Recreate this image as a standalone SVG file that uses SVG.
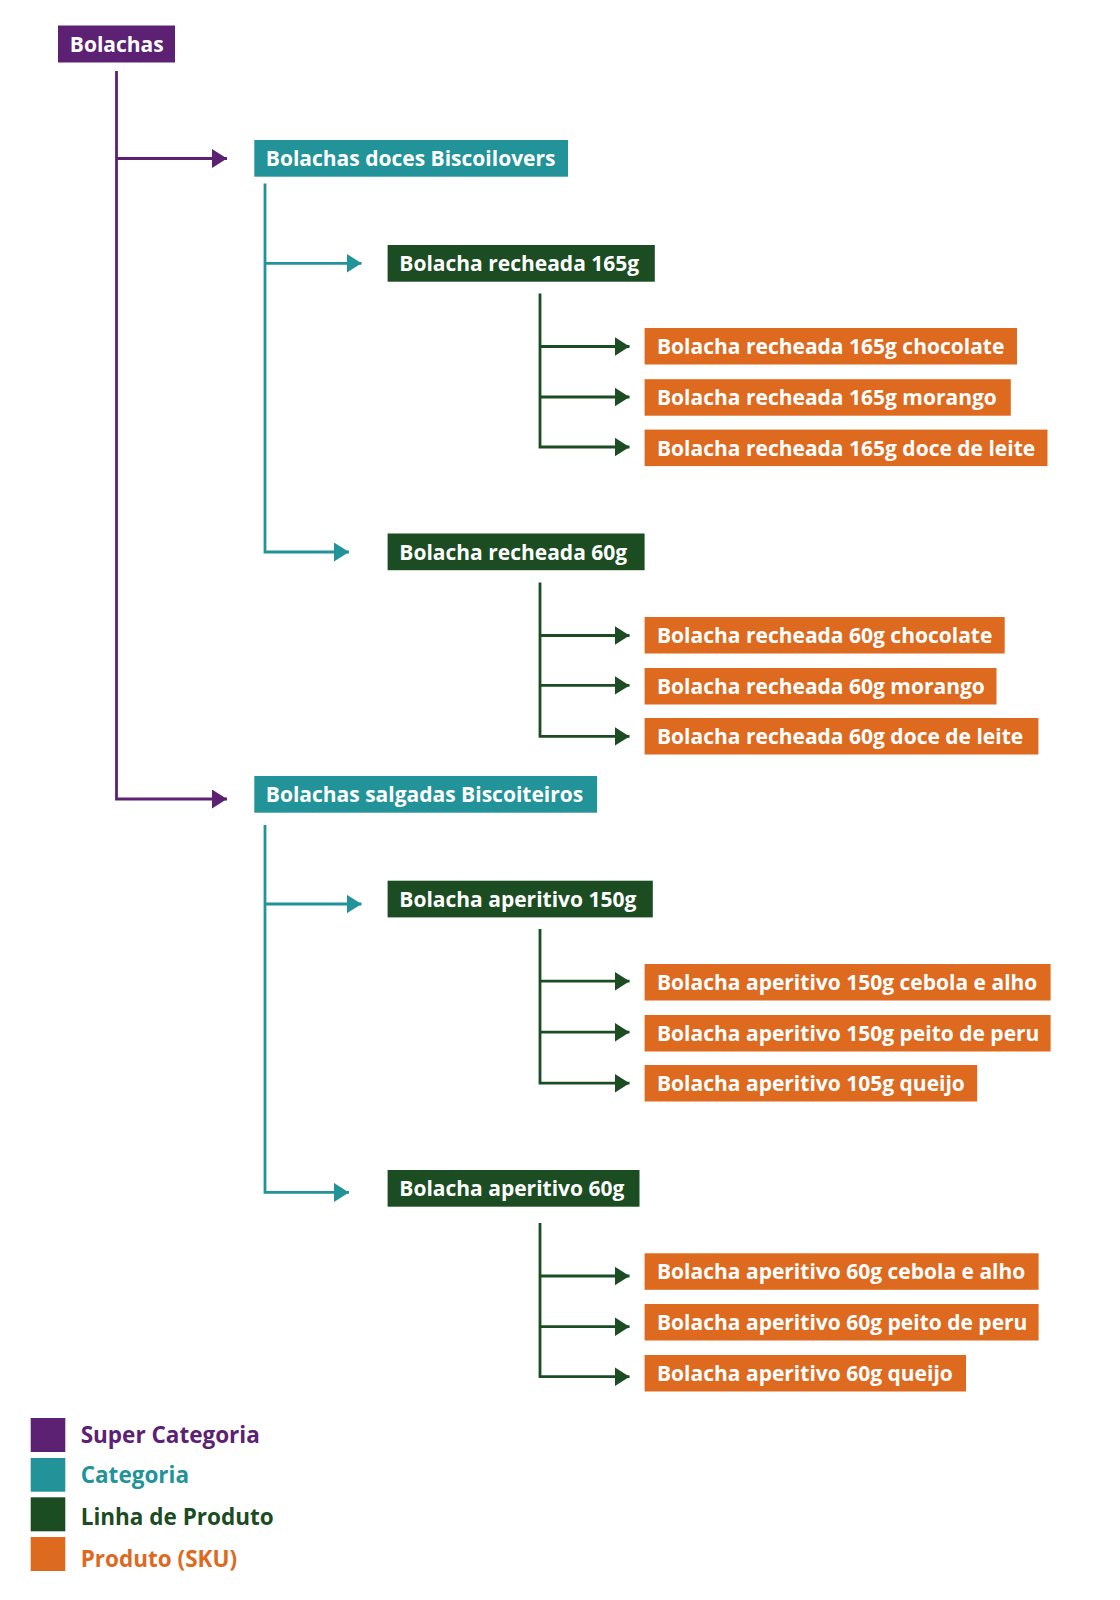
<svg xmlns="http://www.w3.org/2000/svg" width="1120" height="1600" viewBox="0 0 1120 1600">
<style>
text{font-family:"Open Sans","Noto Sans","Liberation Sans",sans-serif;font-weight:700;font-size:21px}
.leg{font-size:22.5px}
.lbl{fill:#ffffff}
.sup{fill:#5c2172}
.cat{fill:#229399}
.lin{fill:#1b4c22}
.sku{fill:#dd6a1f}
.c{fill:none;stroke-width:2.8;stroke-linejoin:miter}
.cp{stroke:#5c2172}
.ct{stroke:#229399}
.cg{stroke:#1b4c22}
</style>
<defs>
<marker id="ap" markerUnits="userSpaceOnUse" markerWidth="16" markerHeight="20" refX="15" refY="9.5" orient="auto"><path d="M0 0L15 9.5L0 19Z" fill="#5c2172"/></marker>
<marker id="at" markerUnits="userSpaceOnUse" markerWidth="16" markerHeight="20" refX="15" refY="9.5" orient="auto"><path d="M0 0L15 9.5L0 19Z" fill="#229399"/></marker>
<marker id="ag" markerUnits="userSpaceOnUse" markerWidth="16" markerHeight="20" refX="15" refY="9.5" orient="auto"><path d="M0 0L15 9.5L0 19Z" fill="#1b4c22"/></marker>
</defs>
<rect width="1120" height="1600" fill="#ffffff"/>
<g id="connectors">
<path class="c cp" d="M116.5 71V799H227" marker-end="url(#ap)"/>
<path class="c cp" d="M116.5 158.5H227" marker-end="url(#ap)"/>
<path class="c ct" d="M265 183.5V552H349" marker-end="url(#at)"/>
<path class="c ct" d="M265 263.3H361.5" marker-end="url(#at)"/>
<path class="c ct" d="M265 825V1192.4H349" marker-end="url(#at)"/>
<path class="c ct" d="M265 904H361.5" marker-end="url(#at)"/>
<path class="c cg" d="M540 293.5V447H629.5" marker-end="url(#ag)"/>
<path class="c cg" d="M540 346.5H629.5" marker-end="url(#ag)"/>
<path class="c cg" d="M540 397H629.5" marker-end="url(#ag)"/>
<path class="c cg" d="M540 582.4V736.4H629.5" marker-end="url(#ag)"/>
<path class="c cg" d="M540 635.5H629.5" marker-end="url(#ag)"/>
<path class="c cg" d="M540 685.4H629.5" marker-end="url(#ag)"/>
<path class="c cg" d="M540 929V1083.2H629.5" marker-end="url(#ag)"/>
<path class="c cg" d="M540 981.2H629.5" marker-end="url(#ag)"/>
<path class="c cg" d="M540 1032.2H629.5" marker-end="url(#ag)"/>
<path class="c cg" d="M540 1223V1376.7H629.5" marker-end="url(#ag)"/>
<path class="c cg" d="M540 1276H629.5" marker-end="url(#ag)"/>
<path class="c cg" d="M540 1326.7H629.5" marker-end="url(#ag)"/>
</g>
<g id="n-bolachas"><rect class="sup" x="58" y="25.5" width="117" height="37"/><text class="lbl" x="69.8" y="51.7">Bolachas</text></g>
<g id="n-doces"><rect class="cat" x="254.3" y="140" width="313.7" height="36.7"/><text class="lbl" x="265.8" y="166">Bolachas doces Biscoilovers</text></g>
<g id="n-rech165"><rect class="lin" x="387.6" y="245" width="267.2" height="36.7"/><text class="lbl" x="399.3" y="271">Bolacha recheada 165g</text></g>
<g id="n-rech165-choc"><rect class="sku" x="644.6" y="328" width="372.4" height="36.5"/><text class="lbl" x="657" y="354">Bolacha recheada 165g chocolate</text></g>
<g id="n-rech165-mor"><rect class="sku" x="644.6" y="379.2" width="366.2" height="36.5"/><text class="lbl" x="657" y="405.2">Bolacha recheada 165g morango</text></g>
<g id="n-rech165-dl"><rect class="sku" x="644.6" y="429.6" width="402.9" height="36.5"/><text class="lbl" x="657" y="455.6">Bolacha recheada 165g doce de leite</text></g>
<g id="n-rech60"><rect class="lin" x="387.6" y="533.5" width="257" height="36.7"/><text class="lbl" x="399.3" y="559.5">Bolacha recheada 60g</text></g>
<g id="n-rech60-choc"><rect class="sku" x="644.6" y="617" width="360.1" height="36.5"/><text class="lbl" x="657" y="643">Bolacha recheada 60g chocolate</text></g>
<g id="n-rech60-mor"><rect class="sku" x="644.6" y="668" width="351.9" height="36.5"/><text class="lbl" x="657" y="694">Bolacha recheada 60g morango</text></g>
<g id="n-rech60-dl"><rect class="sku" x="644.6" y="718" width="393.8" height="36.5"/><text class="lbl" x="657" y="744">Bolacha recheada 60g doce de leite</text></g>
<g id="n-salgadas"><rect class="cat" x="254.3" y="776" width="342.8" height="36.7"/><text class="lbl" x="265.8" y="802">Bolachas salgadas Biscoiteiros</text></g>
<g id="n-ap150"><rect class="lin" x="387.6" y="880.7" width="265.2" height="36.7"/><text class="lbl" x="399.3" y="906.7">Bolacha aperitivo 150g</text></g>
<g id="n-ap150-ca"><rect class="sku" x="644.6" y="964" width="406" height="36.5"/><text class="lbl" x="657" y="990">Bolacha aperitivo 150g cebola e alho</text></g>
<g id="n-ap150-pp"><rect class="sku" x="644.6" y="1015" width="406" height="36.5"/><text class="lbl" x="657" y="1041">Bolacha aperitivo 150g peito de peru</text></g>
<g id="n-ap105-q"><rect class="sku" x="644.6" y="1065" width="332.6" height="36.5"/><text class="lbl" x="657" y="1091">Bolacha aperitivo 105g queijo</text></g>
<g id="n-ap60"><rect class="lin" x="387.6" y="1170" width="251.9" height="36.7"/><text class="lbl" x="399.3" y="1196">Bolacha aperitivo 60g</text></g>
<g id="n-ap60-ca"><rect class="sku" x="644.6" y="1253.3" width="394" height="36.5"/><text class="lbl" x="657" y="1279.3">Bolacha aperitivo 60g cebola e alho</text></g>
<g id="n-ap60-pp"><rect class="sku" x="644.6" y="1304" width="394" height="36.5"/><text class="lbl" x="657" y="1330">Bolacha aperitivo 60g peito de peru</text></g>
<g id="n-ap60-q"><rect class="sku" x="644.6" y="1355" width="321.4" height="36.5"/><text class="lbl" x="657" y="1381">Bolacha aperitivo 60g queijo</text></g>
<g id="legend">
<rect class="sup" x="30.7" y="1418" width="34.6" height="34"/><text class="sup leg" x="80.7" y="1442.7">Super Categoria</text>
<rect class="cat" x="30.7" y="1458" width="34.6" height="33.7"/><text class="cat leg" x="80.7" y="1483.3">Categoria</text>
<rect class="lin" x="30.7" y="1497.3" width="34.6" height="34"/><text class="lin leg" x="80.7" y="1525">Linha de Produto</text>
<rect class="sku" x="30.7" y="1537" width="34.6" height="34"/><text class="sku leg" x="80.7" y="1566.7">Produto (SKU)</text>
</g>
</svg>
